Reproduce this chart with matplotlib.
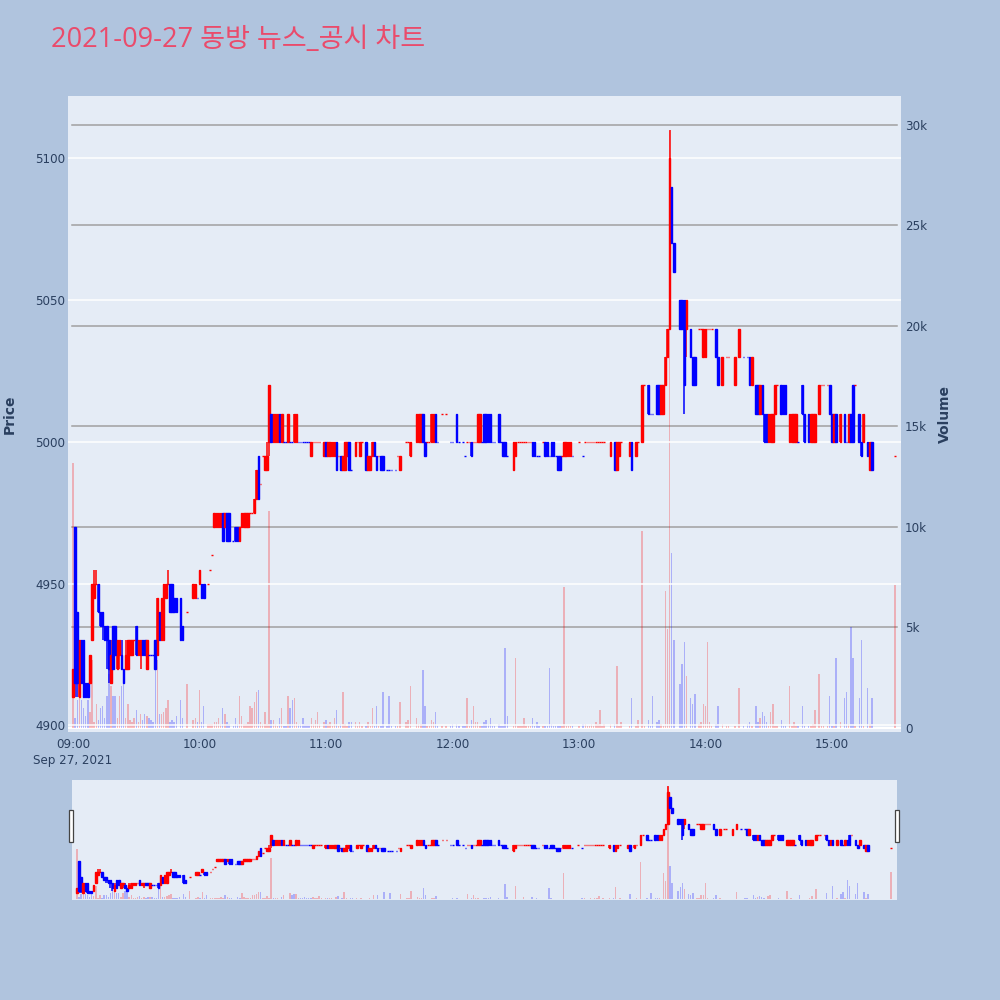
import matplotlib
matplotlib.use("Agg")
import matplotlib.pyplot as plt
import matplotlib.transforms as mtransforms
from matplotlib.patches import Rectangle

plt.rcParams['font.family'] = ['DejaVu Sans', 'Noto Sans CJK KR']

# minute-by-minute trades, minutes counted from 09:00
minutes_a = [0, 1, 2, 3, 4, 5, 6, 7, 8, 9,
             10, 11, 12, 13, 14, 15, 16, 17, 18, 19,
             20, 21, 22, 23, 24, 25, 26, 27, 28, 29,
             30, 31, 32, 33, 34, 35, 36, 37, 38, 39,
             40, 41, 42, 43, 44, 45, 46, 47, 48, 49,
             51, 52, 54, 57, 58, 59]
open_a = [4910, 4970, 4940, 4910, 4930, 4930, 4915, 4915, 4915, 4930,
          4945, 4950, 4950, 4940, 4940, 4935, 4935, 4930, 4915, 4935,
          4935, 4920, 4925, 4925, 4920, 4920, 4920, 4925, 4925, 4930,
          4935, 4925, 4925, 4930, 4930, 4920, 4925, 4925, 4925, 4930,
          4925, 4940, 4930, 4930, 4945, 4950, 4950, 4950, 4945, 4945,
          4945, 4935, 4940, 4945, 4945, 4945]
close_a = [4920, 4915, 4915, 4930, 4915, 4910, 4910, 4910, 4925, 4950,
           4950, 4950, 4940, 4935, 4935, 4930, 4930, 4920, 4925, 4920,
           4925, 4930, 4930, 4920, 4915, 4925, 4930, 4930, 4930, 4930,
           4925, 4930, 4930, 4925, 4925, 4930, 4925, 4925, 4925, 4920,
           4945, 4930, 4945, 4950, 4950, 4950, 4940, 4940, 4940, 4940,
           4930, 4930, 4940, 4950, 4950, 4945]
vol_a = [13.2, 0.5, 1.4, 2.0, 1.4, 1.0, 0.6, 1.4, 0.8, 3.4,
         0.3, 1.2, 0.4, 1.0, 1.1, 0.5, 1.6, 2.7, 2.1, 1.6,
         1.6, 0.5, 1.6, 2.1, 2.6, 0.5, 1.2, 0.4, 0.3, 0.5,
         0.9, 0.3, 0.7, 0.4, 0.7, 0.6, 0.5, 0.4, 0.3, 4.0,
         3.4, 0.7, 0.7, 0.8, 1.0, 1.4, 0.3, 0.4, 0.3, 0.6,
         1.4, 0.5, 2.2, 0.4, 0.5, 0.3]

minutes_b = [60, 61, 62, 64, 65, 66, 67, 68, 69, 70,
             71, 72, 73, 74, 76, 77, 78, 79, 80, 81,
             82, 83, 84, 85, 86, 87, 88, 89, 90, 91,
             92, 93, 94, 95, 96, 97, 98, 99, 100, 101,
             102, 103, 104, 105, 106, 107, 108, 109, 110, 111,
             112, 113, 114, 115, 116, 117, 119]
open_b = [4950, 4950, 4950, 4950, 4955, 4960, 4970, 4970, 4970, 4970,
          4975, 4970, 4975, 4975, 4965, 4970, 4970, 4965, 4970, 4970,
          4970, 4970, 4975, 4975, 4975, 4980, 4995, 4985, 4995, 4990,
          4990, 5000, 5010, 5000, 5000, 5000, 5010, 5000, 5000, 5000,
          5000, 5000, 5000, 5000, 5000, 5000, 5000, 5000, 5000, 5000,
          5000, 4995, 5000, 5000, 5000, 5000, 4995]
close_b = [4955, 4945, 4945, 4950, 4955, 4960, 4975, 4975, 4975, 4975,
           4965, 4975, 4965, 4965, 4965, 4965, 4965, 4970, 4975, 4975,
           4975, 4975, 4975, 4975, 4980, 4990, 4980, 4985, 4995, 4995,
           4995, 5020, 5000, 5010, 5010, 5010, 5000, 5010, 5000, 5000,
           5010, 5000, 5000, 5010, 5010, 5000, 5000, 5000, 5000, 5000,
           5000, 5000, 5000, 5000, 5000, 5000, 5000]
vol_b = [1.9, 0.3, 1.1, 0.2, 0.2, 0.2, 0.3, 0.3, 0.5, 0.2,
         1.0, 0.7, 0.3, 0.2, 0.1, 0.5, 0.2, 1.6, 0.6, 0.2,
         0.2, 0.3, 1.1, 1.0, 1.3, 1.8, 1.9, 0.3, 0.2, 0.8,
         0.2, 10.8, 0.4, 0.4, 0.2, 0.1, 0.5, 1.0, 0.1, 0.1,
         1.6, 1.0, 1.4, 1.5, 0.3, 0.2, 0.2, 0.5, 0.2, 0.2,
         0.2, 0.5, 0.2, 0.4, 0.8, 0.2, 0.3]

minutes_c = [120, 121, 122, 123, 124, 125, 126, 127, 128, 129,
             130, 131, 132, 134, 135, 136, 137, 139, 140, 141,
             142, 143, 144, 145, 146, 147, 149, 150, 151, 153,
             154, 155, 158, 159, 160, 163, 164, 165, 166, 167,
             168, 169, 170, 171, 172, 173, 175, 177, 179]
open_c = [5000, 4995, 4995, 4995, 4995, 5000, 4995, 4995, 4990, 4990,
          4995, 5000, 4990, 4995, 5000, 4995, 5000, 5000, 4990, 4990,
          4995, 5000, 4995, 4995, 4995, 4995, 4990, 4990, 4990, 4990,
          4995, 4990, 5000, 5000, 4995, 5000, 5000, 5000, 5010, 5000,
          5000, 5000, 5000, 5000, 5010, 5000, 5010, 5010, 5000]
close_c = [4995, 5000, 5000, 5000, 5000, 4990, 4995, 4990, 4995, 5000,
           5000, 4990, 4990, 5000, 5000, 5000, 5000, 4990, 4995, 4995,
           5000, 4995, 4990, 4995, 4990, 4990, 4990, 4990, 4990, 4990,
           4995, 4995, 5000, 5000, 5000, 5010, 5010, 5010, 5000, 4995,
           5000, 5000, 5010, 5010, 5000, 5000, 5010, 5010, 5000]
vol_c = [0.4, 0.2, 0.3, 0.1, 0.5, 0.9, 0.1, 0.2, 1.8, 0.2,
         0.1, 0.3, 0.3, 0.3, 0.1, 0.3, 0.1, 0.1, 0.3, 0.1,
         1.0, 0.1, 1.1, 0.1, 0.1, 1.8, 0.1, 1.6, 0.1, 0.1,
         0.1, 1.3, 0.3, 0.4, 2.1, 0.5, 0.2, 0.2, 2.9, 1.1,
         0.1, 0.1, 0.4, 0.3, 0.8, 0.1, 0.1, 0.1, 0.1]

minutes_d = [180, 182, 183, 185, 186, 187, 188, 189, 190, 191,
             192, 193, 194, 195, 196, 197, 198, 199, 200, 202,
             203, 204, 205, 206, 209, 210, 211, 212, 213, 214,
             215, 216, 217, 218, 219, 220, 221, 223, 224, 225,
             226, 227, 228, 229, 230, 231, 232, 233, 234, 235,
             236, 237, 240, 242, 243, 244, 245, 246, 247, 248,
             249, 250, 251, 252, 255, 257, 258, 259, 260]
open_d = [5000, 5010, 5000, 5000, 4995, 5000, 5000, 5000, 5000, 5000,
          5000, 5000, 5000, 5010, 5010, 5010, 5010, 5000, 5000, 5010,
          5000, 5000, 5000, 4995, 4990, 4995, 5000, 5000, 5000, 5000,
          5000, 5000, 5000, 5000, 5000, 4995, 4995, 5000, 5000, 5000,
          4995, 5000, 5000, 4995, 4995, 4995, 4995, 4995, 4995, 4995,
          4995, 4995, 5000, 4995, 5000, 5000, 5000, 5000, 5000, 5000,
          5000, 5000, 5000, 5000, 4995, 5000, 4990, 4995, 5000]
close_d = [5000, 5000, 5000, 5000, 4995, 5000, 5000, 4995, 5000, 5000,
           5010, 5010, 5000, 5000, 5000, 5000, 5000, 5000, 5000, 5000,
           5000, 4995, 4995, 4995, 5000, 5000, 5000, 5000, 5000, 5000,
           5000, 5000, 5000, 4995, 4995, 4995, 4995, 5000, 4995, 4995,
           4995, 4995, 4995, 4995, 4990, 4990, 4995, 5000, 5000, 5000,
           5000, 4995, 5000, 4995, 5000, 5000, 5000, 5000, 5000, 5000,
           5000, 5000, 5000, 5000, 5000, 4990, 5000, 5000, 5000]
vol_d = [0.2, 0.2, 0.1, 0.1, 0.1, 1.5, 0.1, 0.4, 1.1, 0.3,
         0.3, 0.1, 0.1, 0.3, 0.4, 0.2, 0.5, 0.1, 0.1, 0.2,
         0.1, 0.1, 4.0, 0.6, 0.1, 3.5, 0.1, 0.1, 0.1, 0.5,
         0.1, 0.1, 0.1, 0.5, 0.1, 0.3, 0.1, 0.1, 0.1, 0.1,
         3.0, 0.2, 0.1, 0.1, 0.1, 0.1, 0.1, 7.0, 0.1, 0.1,
         0.1, 0.1, 0.1, 0.2, 0.2, 0.1, 0.1, 0.2, 0.1, 0.3,
         0.2, 0.9, 0.1, 0.2, 0.2, 0.2, 3.1, 0.1, 0.3]

minutes_e = [264, 265, 267, 268, 270, 271, 273, 274, 275, 277,
             278, 279, 280, 281, 282, 283, 284, 285, 288, 289,
             290, 291, 293, 294, 295, 297, 298, 299, 300, 301,
             302, 303, 305, 306, 308, 310, 311, 314, 316, 318,
             320, 321, 322, 324, 325, 326, 327, 328, 329, 330,
             331, 332, 333, 334, 336, 337, 338, 340, 341, 342,
             343, 344, 346, 347, 349, 350, 351, 352, 354, 355,
             356, 358, 359, 360, 361, 362, 364, 366, 367, 368,
             369, 370, 371, 373, 374, 375, 377, 378, 379, 390]
open_e = [4995, 5000, 4995, 5000, 5000, 5020, 5020, 5010, 5010, 5020,
          5020, 5010, 5010, 5020, 5030, 5040, 5090, 5070, 5050, 5050,
          5050, 5040, 5040, 5030, 5030, 5040, 5040, 5030, 5030, 5040,
          5040, 5040, 5040, 5030, 5020, 5030, 5030, 5020, 5030, 5030,
          5030, 5030, 5020, 5020, 5020, 5010, 5020, 5010, 5010, 5000,
          5000, 5000, 5010, 5020, 5020, 5020, 5020, 5000, 5000, 5000,
          5000, 5000, 5020, 5010, 5010, 5000, 5000, 5000, 5010, 5020,
          5020, 5020, 5020, 5010, 5000, 5010, 5000, 5010, 5000, 5000,
          5010, 5020, 5020, 5010, 5000, 5000, 5000, 4990, 5000, 4995]
close_e = [5000, 4990, 5000, 5000, 5020, 5020, 5010, 5010, 5010, 5010,
           5010, 5020, 5020, 5030, 5040, 5100, 5070, 5060, 5040, 5040,
           5020, 5050, 5030, 5020, 5020, 5040, 5040, 5040, 5040, 5040,
           5040, 5040, 5030, 5020, 5030, 5030, 5030, 5030, 5040, 5030,
           5030, 5020, 5030, 5010, 5010, 5020, 5010, 5000, 5000, 5010,
           5010, 5010, 5020, 5020, 5010, 5010, 5010, 5010, 5010, 5010,
           5010, 5000, 5010, 5000, 5000, 5010, 5010, 5010, 5020, 5020,
           5020, 5020, 5010, 5000, 5010, 5000, 5010, 5000, 5000, 5010,
           5000, 5000, 5020, 5000, 4995, 5010, 4995, 5000, 4990, 4995]
vol_e = [0.1, 1.5, 0.1, 0.4, 9.8, 0.1, 0.4, 0.1, 1.6, 0.3,
         0.4, 0.2, 0.1, 6.8, 4.9, 29.7, 8.7, 4.4, 2.2, 3.2,
         4.3, 2.6, 1.5, 1.2, 1.7, 0.2, 0.3, 1.2, 1.1, 4.3,
         0.3, 0.1, 0.2, 1.1, 0.2, 0.1, 0.1, 0.1, 2.0, 0.1,
         0.2, 0.3, 0.1, 1.1, 0.3, 0.5, 0.8, 0.6, 0.3, 0.1,
         0.8, 1.2, 0.1, 0.1, 0.4, 0.1, 0.1, 2.1, 0.1, 0.3,
         0.1, 0.1, 1.1, 0.1, 0.1, 0.1, 0.2, 0.9, 2.7, 0.1,
         0.1, 0.1, 1.6, 0.1, 0.1, 3.5, 0.3, 1.5, 1.8, 0.2,
         5.0, 3.5, 0.1, 1.5, 4.4, 0.1, 2.0, 0.2, 1.5, 7.1]

# candles whose wicks reach past the body
wick_minute = [1, 2, 10, 11, 14, 16, 17, 18, 22, 23, 25, 32, 45, 92, 93, 283, 290, 291]
wick_high = [4970, 4940, 4955, 4955, 4940, 4935, 4930, 4930, 4930, 4930, 4930, 4930,
             4955, 5000, 5020, 5110, 5050, 5050]
wick_low = [4910, 4910, 4945, 4950, 4930, 4920, 4915, 4915, 4920, 4920, 4920, 4920,
            4950, 4990, 4995, 5040, 5010, 5030]

hour_labels = ['09:00\nSep 27, 2021', '10:00', '11:00', '12:00', '13:00', '14:00', '15:00']
price_ticks = [4900, 4950, 5000, 5050, 5100]
vol_ticks = [0, 5000, 10000, 15000, 20000, 25000, 30000]
vol_labels = ['0', '5k', '10k', '15k', '20k', '25k', '30k']

minutes = minutes_a + minutes_b + minutes_c + minutes_d + minutes_e
opens = open_a + open_b + open_c + open_d + open_e
closes = close_a + close_b + close_c + close_d + close_e
volumes = [v * 1000 for v in vol_a + vol_b + vol_c + vol_d + vol_e]

highs = [max(o, c) for o, c in zip(opens, closes)]
lows = [min(o, c) for o, c in zip(opens, closes)]
for m, h, l in zip(wick_minute, wick_high, wick_low):
    k = minutes.index(m)
    highs[k] = h
    lows[k] = l

# plotly's rule: equal open/close takes its direction from the previous close
increasing = []
up = True
prev = None
for o, c in zip(opens, closes):
    if c != o:
        up = c > o
    elif prev is not None and c != prev:
        up = c > prev
    increasing.append(up)
    prev = c

RED = '#ff0000'
BLUE = '#0000ff'
colors = [RED if u else BLUE for u in increasing]
BG = '#b0c4de'
PLOT_BG = '#e5ecf6'
TXT = '#2a3f5f'

XLIM = (-2.4, 392.8)
PLIM = (4897.7, 5122.0)
VLIM = (-200, 31440)


def draw(ax_vol, ax_price):
    ax_vol.bar(minutes, volumes, width=0.7, color=colors, alpha=0.25, linewidth=0, zorder=2)
    ax_price.vlines(minutes, lows, highs, colors=colors, linewidth=1.1, zorder=3)
    bottoms = [min(o, c) for o, c in zip(opens, closes)]
    heights = [abs(c - o) for o, c in zip(opens, closes)]
    ax_price.bar(minutes, heights, bottom=bottoms, width=0.75, color=colors,
                 edgecolor=colors, linewidth=1.0, zorder=3)
    ax_vol.set_xlim(*XLIM)
    ax_vol.set_ylim(*VLIM)
    ax_price.set_ylim(*PLIM)
    for a in (ax_vol, ax_price):
        for s in a.spines.values():
            s.set_visible(False)


fig = plt.figure(figsize=(10, 10), dpi=100, facecolor=BG)

# main chart
ax_vol = fig.add_axes([0.068, 0.268, 0.833, 0.636], facecolor=PLOT_BG)
ax_price = ax_vol.twinx()
ax_price.patch.set_visible(False)

# volume grid drawn behind everything
trans = mtransforms.blended_transform_factory(ax_vol.transAxes, ax_vol.transData)
for v in vol_ticks[1:]:
    ax_vol.plot([0.005, 0.995], [v, v], color='#a0a0a0', linewidth=1.1, transform=trans, zorder=1)
ax_vol.axhline(0, color='white', linewidth=1.5, zorder=1)

draw(ax_vol, ax_price)

ax_price.yaxis.tick_left()
ax_price.yaxis.set_label_position('left')
ax_vol.yaxis.tick_right()
ax_price.set_yticks(price_ticks)
ax_price.set_yticklabels([str(p) for p in price_ticks])
ax_vol.set_yticks(vol_ticks)
ax_vol.set_yticklabels(vol_labels)
ax_price.grid(axis='y', color='white', linewidth=1.1, zorder=0)
ax_price.set_axisbelow(True)
ax_vol.set_xticks([60 * i for i in range(7)])
ax_vol.set_xticklabels(hour_labels, linespacing=1.3)
for lab in ax_vol.get_xticklabels():
    lab.set_verticalalignment('top')
ax_vol.tick_params(axis='x', length=0, pad=4, labelsize=8.6, colors=TXT)
ax_vol.tick_params(axis='y', length=0, pad=3, labelsize=8.6, colors=TXT)
ax_price.tick_params(axis='y', length=0, pad=2, labelsize=8.6, colors=TXT)

fig.text(0.010, 0.586, 'Price', rotation=90, ha='center', va='center',
         fontsize=10, fontweight='bold', color=TXT)
fig.text(0.945, 0.586, 'Volume', rotation=90, ha='center', va='center',
         fontsize=10, fontweight='bold', color=TXT)
fig.text(0.051, 0.960, '2021-09-27 동방 뉴스_공시 차트', ha='left', va='center',
         fontsize=19.5, color='#ea4b6b', family=['Open Sans', 'Noto Sans CJK KR'])

# range slider
sl_vol = fig.add_axes([0.072, 0.100, 0.825, 0.120], facecolor=PLOT_BG)
sl_price = sl_vol.twinx()
sl_price.patch.set_visible(False)
draw(sl_vol, sl_price)
for a in (sl_vol, sl_price):
    a.set_xticks([])
    a.set_yticks([])

for x0 in (0.069, 0.895):
    fig.patches.append(Rectangle((x0, 0.158), 0.004, 0.032, transform=fig.transFigure,
                                 facecolor='white', edgecolor='#444444', linewidth=0.9))

fig.savefig('out.png', dpi=100, facecolor=BG)
